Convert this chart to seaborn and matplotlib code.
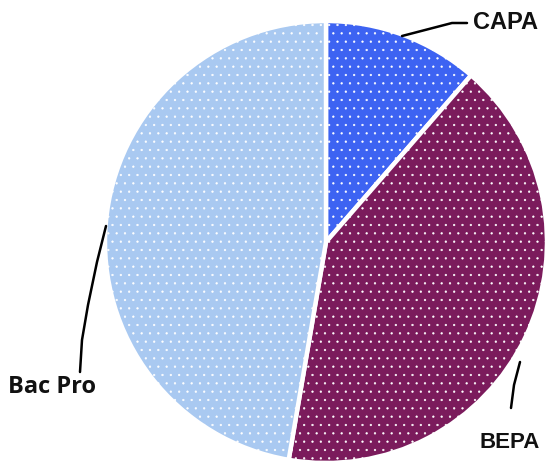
import matplotlib
matplotlib.use("Agg")
import matplotlib.pyplot as plt
import seaborn as sns

# pie data (share of students, %)
labels = ["CAPA", "BEPA", "Bac Pro"]
shares = [11.4, 41.3, 47.3]
colors = ["#3d63f2", "#7b1b5c", "#a9c9f1"]

sns.set_theme(style="white")
plt.rcParams["hatch.color"] = "white"
plt.rcParams["hatch.linewidth"] = 0.4

W, H = 547, 461
fig = plt.figure(figsize=(W / 100, H / 100), dpi=100)
ax = fig.add_axes([0, 0, 1, 1])

# axes in pixel units, y measured from the bottom
cx, cy, r = 326, H - 242, 221
wedges, _ = ax.pie(shares, colors=colors, startangle=90, counterclock=False,
                   center=(cx, cy), radius=r, frame=True,
                   wedgeprops=dict(edgecolor="white", linewidth=3.2))
for w in wedges:
    w.set_hatch("..")

ax.set_xlim(0, W)
ax.set_ylim(0, H)
ax.set_aspect("equal")
ax.axis("off")

# leader lines
ax.plot([402, 452, 467], [H - 36, H - 23, H - 23], color="black", lw=1.8)
ax.plot([106, 97, 88, 82, 80], [H - 226, H - 262, H - 305, H - 340, H - 372],
        color="black", lw=1.8)
ax.plot([520, 514, 511], [H - 362, H - 385, H - 408], color="black", lw=1.8)

ax.text(505, H - 23, "CAPA", ha="center", va="center", fontsize=17,
        fontweight="bold", family="Liberation Sans", color="#111111")
ax.text(510, H - 443, "BEPA", ha="center", va="center", fontsize=16,
        fontweight="bold", family="Liberation Sans", color="#111111")
ax.text(52, H - 387, "Bac Pro", ha="center", va="center", fontsize=17,
        fontweight="bold", family="Open Sans", color="#111111")

fig.savefig("out.png", dpi=100)
